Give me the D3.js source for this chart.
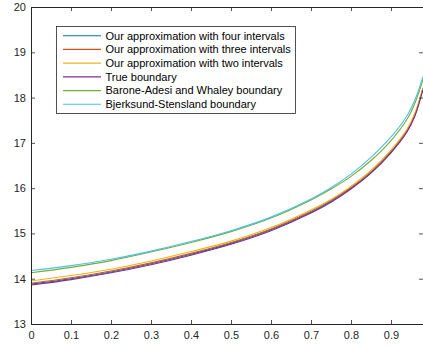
<!DOCTYPE html>
<html>
<head>
<meta charset="utf-8">
<script src="https://cdn.jsdelivr.net/npm/d3@7"></script>
<style>
  html, body { margin: 0; padding: 0; background: #fff; }
  svg { display: block; font-family: "Liberation Sans", Arial, Helvetica, sans-serif; }
</style>
</head>
<body>
<svg id="chart" width="423" height="347"></svg>
<script>
// Time points at which each exercise boundary is sampled
const times = [0, 0.1, 0.2, 0.3, 0.4, 0.5, 0.6, 0.7, 0.75, 0.8, 0.85, 0.9, 0.94, 0.96, 0.98];

// Boundary values for each method
const fourIntervals  = [13.88, 14.00, 14.15, 14.33, 14.54, 14.78, 15.08, 15.47, 15.71, 16.00, 16.35, 16.80, 17.26, 17.62, 18.20];
const threeIntervals = [13.90, 14.02, 14.17, 14.35, 14.56, 14.80, 15.10, 15.49, 15.73, 16.02, 16.37, 16.82, 17.28, 17.64, 18.21];
const twoIntervals   = [13.95, 14.07, 14.21, 14.39, 14.60, 14.83, 15.13, 15.52, 15.75, 16.04, 16.39, 16.84, 17.30, 17.66, 18.22];
const trueBoundary   = [13.86, 13.98, 14.13, 14.31, 14.52, 14.76, 15.06, 15.45, 15.69, 15.98, 16.33, 16.78, 17.24, 17.60, 18.18];
const baroneAdesi    = [14.13, 14.25, 14.40, 14.59, 14.80, 15.04, 15.34, 15.74, 15.98, 16.26, 16.61, 17.05, 17.52, 17.88, 18.40];
const bjerksund      = [14.18, 14.29, 14.43, 14.61, 14.82, 15.06, 15.36, 15.76, 16.01, 16.31, 16.68, 17.13, 17.60, 17.95, 18.46];

const seriesNames = [
  "Our approximation with four intervals",
  "Our approximation with three intervals",
  "Our approximation with two intervals",
  "True boundary",
  "Barone-Adesi and Whaley boundary",
  "Bjerksund-Stensland boundary"
];
const seriesValues = [fourIntervals, threeIntervals, twoIntervals, trueBoundary, baroneAdesi, bjerksund];
const seriesColors = ["#0072BD", "#D95319", "#EDB120", "#7E2F8E", "#77AC30", "#4DBEEE"];

const xTicks = [0, 0.1, 0.2, 0.3, 0.4, 0.5, 0.6, 0.7, 0.8, 0.9];
const yTicks = [13, 14, 15, 16, 17, 18, 19, 20];

const svg = d3.select("#chart");
const plotLeft = 31, plotRight = 423, plotTop = 7, plotBottom = 324;
const axisColor = "#262626";

const x = d3.scaleLinear().domain([0, 0.98]).range([plotLeft, plotRight]);
const y = d3.scaleLinear().domain([13, 20]).range([plotBottom, plotTop]);

// Curves
const line = d3.line()
  .x((d, i) => x(times[i]))
  .y(d => y(d))
  .curve(d3.curveCatmullRom.alpha(0.5));

const plot = svg.append("g");
seriesValues.forEach((vals, k) => {
  plot.append("path")
    .datum(vals)
    .attr("d", line)
    .attr("fill", "none")
    .attr("stroke", seriesColors[k])
    .attr("stroke-width", 1.1);
});

// Axes (ticks point inward, box on all sides)
const tickLen = 4;
const fmtX = d => d === 0 ? "0" : d3.format(".1f")(d);

const bottomAxis = svg.append("g")
  .attr("transform", `translate(0,${plotBottom})`)
  .call(d3.axisBottom(x).tickValues(xTicks).tickFormat(fmtX).tickSizeInner(-tickLen).tickSizeOuter(0).tickPadding(7));
const topAxis = svg.append("g")
  .attr("transform", `translate(0,${plotTop})`)
  .call(d3.axisTop(x).tickValues(xTicks).tickFormat("").tickSizeInner(-tickLen).tickSizeOuter(0));
const leftAxis = svg.append("g")
  .attr("transform", `translate(${plotLeft},0)`)
  .call(d3.axisLeft(y).tickValues(yTicks).tickFormat(d3.format("d")).tickSizeInner(-tickLen).tickSizeOuter(0).tickPadding(5));
const rightAxis = svg.append("g")
  .attr("transform", `translate(${plotRight},0)`)
  .call(d3.axisRight(y).tickValues(yTicks).tickFormat("").tickSizeInner(-tickLen).tickSizeOuter(0));

[bottomAxis, topAxis, leftAxis, rightAxis].forEach(g => {
  g.select(".domain").attr("stroke", axisColor).attr("stroke-width", 1);
  g.selectAll(".tick line").attr("stroke", axisColor).attr("stroke-width", 0.8);
  g.selectAll(".tick text").attr("fill", axisColor).style("font-size", "11px")
    .style("font-family", "'Liberation Sans', Arial, sans-serif");
});
bottomAxis.selectAll(".tick text").attr("dy", "0.71em");

// Legend
const lg = svg.append("g");
const lgLeft = 56.5, lgTop = 26.5, lgRight = 295.5, lgBottom = 113.5;
lg.append("rect")
  .attr("x", lgLeft).attr("y", lgTop)
  .attr("width", lgRight - lgLeft).attr("height", lgBottom - lgTop)
  .attr("fill", "#fff").attr("stroke", axisColor).attr("stroke-width", 0.8);
const rowY = d3.scaleLinear().domain([0, 5]).range([35.7, 104.3]);
seriesNames.forEach((name, k) => {
  const yy = rowY(k);
  lg.append("line")
    .attr("x1", 63).attr("x2", 101).attr("y1", yy).attr("y2", yy)
    .attr("stroke", seriesColors[k]).attr("stroke-width", 1.1);
  lg.append("text")
    .attr("x", 105.5).attr("y", yy).attr("dy", "0.35em")
    .attr("fill", "#000")
    .style("font-size", "11px")
    .text(name);
});
</script>
</body>
</html>
